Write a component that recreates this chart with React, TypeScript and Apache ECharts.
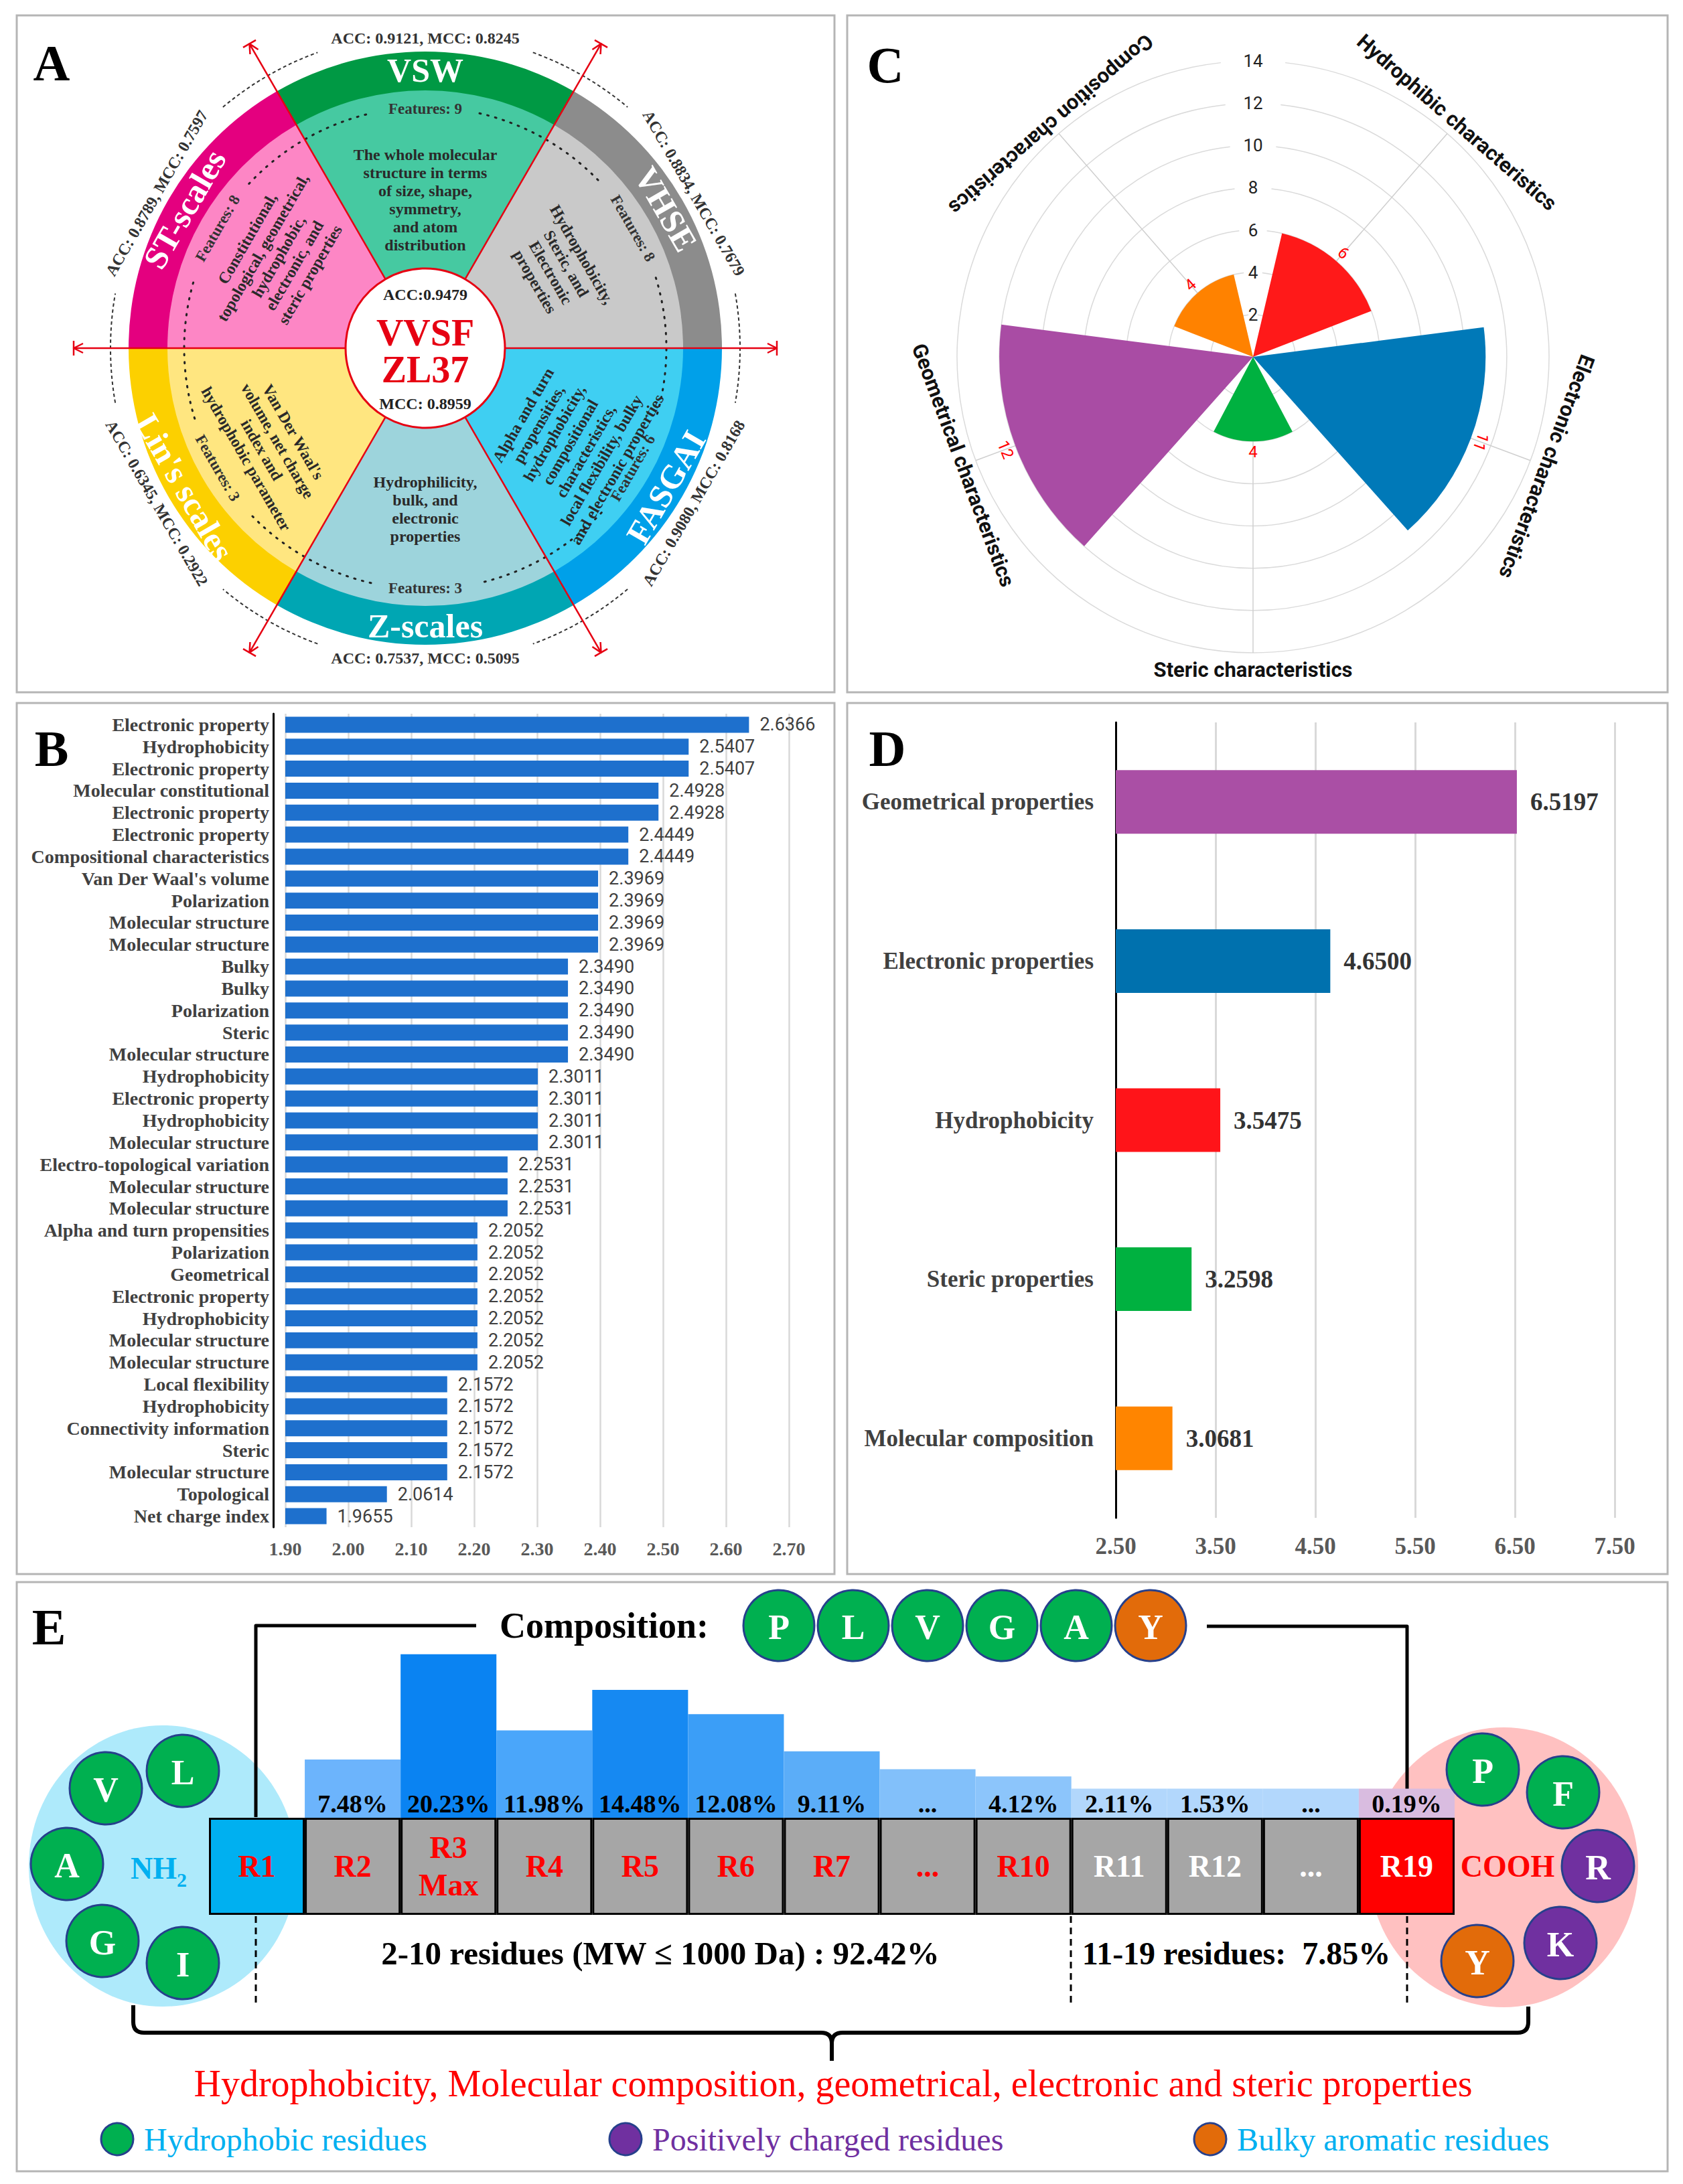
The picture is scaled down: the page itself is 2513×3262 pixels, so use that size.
import React, { useEffect, useRef } from "react";
import * as echarts from "echarts";

const SERIF = '"Liberation Serif", "Times New Roman", serif';
const SANS = 'Roboto, "Noto Sans", "DejaVu Sans", sans-serif';

// ---------- Panel A data ----------
const encodingNames = ["VSW", "VHSE", "FASGAI", "Z-scales", "Lin's scales", "ST-scales"];
const encodingAcc = ["0.9121", "0.8834", "0.9080", "0.7537", "0.6345", "0.8789"];
const encodingMcc = ["0.8245", "0.7679", "0.8168", "0.5095", "0.2922", "0.7597"];
const encodingFeatureCounts = [9, 8, 6, 3, 3, 8];
const encodingDescriptions = [
  "The whole molecular\nstructure in terms\nof size, shape,\nsymmetry,\nand atom\ndistribution",
  "Hydrophobicity,\nSteric, and\nElectronic\nproperties",
  "Alpha and turn\npropensities,\nhydrophobicity,\ncompositional\ncharacteristics,\nlocal flexibility, bulky\nand electronic properties",
  "Hydrophilicity,\nbulk, and\nelectronic\nproperties",
  "Van Der Waal's\nvolume, net charge\nindex and\nhydrophobic parameter",
  "Constitutional,\ntopological, geometrical,\nhydrophobic,\nelectronic, and\nsteric properties",
];
const fusedName = ["VVSF", "ZL37"];
const fusedAcc = "0.9479";
const fusedMcc = "0.8959";

// ---------- Panel B data ----------
const featureNames = [
  "Electronic property", "Hydrophobicity", "Electronic property", "Molecular constitutional",
  "Electronic property", "Electronic property", "Compositional characteristics", "Van Der Waal's volume",
  "Polarization", "Molecular structure", "Molecular structure", "Bulky", "Bulky", "Polarization",
  "Steric", "Molecular structure", "Hydrophobicity", "Electronic property", "Hydrophobicity",
  "Molecular structure", "Electro-topological variation", "Molecular structure", "Molecular structure",
  "Alpha and turn propensities", "Polarization", "Geometrical", "Electronic property", "Hydrophobicity",
  "Molecular structure", "Molecular structure", "Local flexibility", "Hydrophobicity",
  "Connectivity information", "Steric", "Molecular structure", "Topological", "Net charge index",
];
const featureScores = [
  2.6366, 2.5407, 2.5407, 2.4928, 2.4928, 2.4449, 2.4449, 2.3969, 2.3969, 2.3969, 2.3969,
  2.349, 2.349, 2.349, 2.349, 2.349, 2.3011, 2.3011, 2.3011, 2.3011, 2.2531, 2.2531, 2.2531,
  2.2052, 2.2052, 2.2052, 2.2052, 2.2052, 2.2052, 2.2052, 2.1572, 2.1572, 2.1572, 2.1572, 2.1572,
  2.0614, 1.9655,
];

// ---------- Panel C data ----------
const charCategories = [
  "Hydrophibic characteristics", "Electronic characteristics", "Steric characteristics",
  "Geometrical characteristics", "Composition characteristics",
];
const charCounts = [6, 11, 4, 12, 4];

// ---------- Panel D data ----------
const propNames = ["Geometrical properties", "Electronic properties", "Hydrophobicity", "Steric properties", "Molecular composition"];
const propScores = [6.5197, 4.65, 3.5475, 3.2598, 3.0681];

// ---------- Panel E data ----------
const residuePositions = ["R1", "R2", "R3\nMax", "R4", "R5", "R6", "R7", "...", "R10", "R11", "R12", "...", "R19"];
const residueShares = ["", "7.48%", "20.23%", "11.98%", "14.48%", "12.08%", "9.11%", "...", "4.12%", "2.11%", "1.53%", "...", "0.19%"];
const residueBarLevels = [0, 7.2, 20.2, 10.8, 15.8, 12.8, 8.2, 6.0, 5.1, 3.6, 3.6, 3.6, 3.6];
const compositionResidues = ["P", "L", "V", "G", "A", "Y"];
const nTermResidues = ["V", "L", "A", "G", "I"];
const cTermResidues = ["P", "F", "R", "K", "Y"];
const shortLenText = "2-10 residues (MW \u2264 1000 Da) : 92.42%";
const longLenText = "11-19 residues:  7.85%";
const summaryText = "Hydrophobicity, Molecular composition, geometrical, electronic and steric properties";
const legendLabels = ["Hydrophobic residues", "Positively charged residues", "Bulky aromatic residues"];

// ---------- styles ----------
const ringColors = ["#009944", "#8c8c8c", "#00a0e9", "#00a6b3", "#fcd000", "#e4007f"];
const innerColors = ["#46c9a1", "#c9c9c9", "#3fcff2", "#9dd4dc", "#ffe680", "#fd86c5"];
const charColors = ["#ff1919", "#0079b8", "#00b140", "#a94ca4", "#ff8200"];
// label overrides for the two bars whose automatic tangential label would be upside-down
// (10730.5 deg == -69.5 deg; it also lands near -69.5 deg if read as radians)
const charLabelOverride: (any | undefined)[] = [undefined, undefined, { rotate: 0, verticalAlign: "top" }, { rotate: 10730.5, verticalAlign: "top" }, undefined];
const propColors = ["#aa4fa5", "#0071ae", "#ff1419", "#00b140", "#ff8500"];
const histColors = ["#6cb4fc", "#6cb4fc", "#0a83f2", "#4aa6fa", "#1689f2", "#3b9ef7", "#5badf8", "#82c0fa", "#8cc5fb", "#b2d7fc", "#b2d7fc", "#b2d7fc", "#d9bce0"];
const boxFills = ["#00b0f0", "#a6a6a6", "#a6a6a6", "#a6a6a6", "#a6a6a6", "#a6a6a6", "#a6a6a6", "#a6a6a6", "#a6a6a6", "#a6a6a6", "#a6a6a6", "#a6a6a6", "#ff0000"];
const boxTextColors = ["#ff0000", "#ff0000", "#ff0000", "#ff0000", "#ff0000", "#ff0000", "#ff0000", "#ff0000", "#ff0000", "#ffffff", "#ffffff", "#ffffff", "#ffffff"];
const GREEN = "#00b050";
const PURPLE = "#7030a0";
const ORANGE = "#e26b0a";
const RING_BORDER = "#26408c";
const RED = "#e60012";

const rad = (d: number) => (d * Math.PI) / 180;
const polarPt = (cx: number, cy: number, r: number, deg: number) => [cx + r * Math.cos(rad(deg)), cy - r * Math.sin(rad(deg))];
const tangentRot = (deg: number) => {
  const n = ((deg % 360) + 360) % 360;
  return rad(n > 0 && n < 180 ? deg - 90 : deg + 90);
};

function txt(x: number, y: number, text: string, size: number, o: any = {}) {
  return {
    type: "text",
    x,
    y,
    rotation: o.rot || 0,
    z: o.z ?? 20,
    style: {
      text,
      fill: o.color || "#000",
      fontSize: size,
      fontFamily: o.family || SERIF,
      fontWeight: o.weight || "bold",
      align: o.align || "center",
      verticalAlign: "middle",
      lineHeight: o.lh,
      rich: o.rich,
    },
  };
}
function ln(x1: number, y1: number, x2: number, y2: number, color: string, w: number, z = 5, dash?: number[]) {
  return { type: "line", z, shape: { x1, y1, x2, y2 }, style: { stroke: color, lineWidth: w, lineDash: dash } };
}
function pl(points: number[][], color: string, w: number, z = 5) {
  return { type: "polyline", z, shape: { points }, style: { stroke: color, lineWidth: w, fill: null, lineJoin: "round" } };
}
function bez(x1: number, y1: number, cx: number, cy: number, x2: number, y2: number, color: string, w: number, z = 5) {
  return { type: "bezierCurve", z, shape: { x1, y1, x2, y2, cpx1: cx, cpy1: cy }, style: { stroke: color, lineWidth: w, fill: null } };
}
function ball(cx: number, cy: number, r: number, fill: string, letter: string, size: number, z = 12) {
  const els: any[] = [
    { type: "circle", z, shape: { cx, cy, r }, style: { fill, stroke: RING_BORDER, lineWidth: 3 } },
  ];
  if (letter) els.push(txt(cx, cy + 2, letter, size, { color: "#fff", z: z + 1 }));
  return els;
}

function buildGraphics() {
  const els: any[] = [];
  // panel borders
  const borders = [
    [25, 23, 1221, 1011],
    [1265, 23, 1225, 1011],
    [25, 1050, 1221, 1301],
    [1265, 1050, 1225, 1301],
    [25, 2363, 2465, 880],
  ];
  borders.forEach(([x, y, w, h]) =>
    els.push({ type: "rect", z: 0, shape: { x, y, width: w, height: h }, style: { fill: null, stroke: "#b5b5b5", lineWidth: 3 } })
  );
  // panel letters
  els.push(txt(77, 94, "A", 76));
  els.push(txt(1322, 97, "C", 76));
  els.push(txt(77, 1118, "B", 76));
  els.push(txt(1325, 1118, "D", 76));
  els.push(txt(73, 2430, "E", 76));

  // ---------------- Panel A ----------------
  const CX = 635, CY = 520;
  const ringAngles = [90, 30, -30, -90, 210, 150];
  const descPos = [[222, 90], [232, 31], [258, -33], [240, -90], [274, 212], [258, 148]];
  ringAngles.forEach((a, i) => {
    els.push({ type: "sector", z: 1, shape: { cx: CX, cy: CY, r0: 384, r: 443, startAngle: rad(-(a + 30)), endAngle: rad(-(a - 30)), clockwise: true }, style: { fill: ringColors[i] } });
    els.push({ type: "sector", z: 1, shape: { cx: CX, cy: CY, r0: 0, r: 385, startAngle: rad(-(a + 30)), endAngle: rad(-(a - 30)), clockwise: true }, style: { fill: innerColors[i] } });
  });
  // dotted features circle and dashed outer circle with gaps
  for (let k = 0; k < 6; k++) {
    const base = 30 + 60 * k;
    els.push({ type: "arc", z: 3, shape: { cx: CX, cy: CY, r: 360, startAngle: rad(-(base + 47)), endAngle: rad(-(base + 13)), clockwise: true }, style: { stroke: "#222", lineWidth: 3, lineDash: [2, 10], lineCap: "round", fill: null } });
    els.push({ type: "arc", z: 3, shape: { cx: CX, cy: CY, r: 470, startAngle: rad(-(base + 40)), endAngle: rad(-(base + 20)), clockwise: true }, style: { stroke: "#333", lineWidth: 2, lineDash: [5, 4], fill: null } });
  }
  // red axis lines with end caps
  [0, 60, 120].forEach((a) => {
    const [x1, y1] = polarPt(CX, CY, 525, a);
    const [x2, y2] = polarPt(CX, CY, 525, a + 180);
    els.push(ln(x1, y1, x2, y2, RED, 2.5, 4));
    [a, a + 180].forEach((b) => {
      const [ex, ey] = polarPt(CX, CY, 525, b);
      const ux = Math.cos(rad(b)), uy = -Math.sin(rad(b));
      const px = -uy, py = ux;
      els.push(ln(ex - 11 * px, ey - 11 * py, ex + 11 * px, ey + 11 * py, RED, 2.5, 4));
      els.push(pl([[ex - 14 * ux + 7 * px, ey - 14 * uy + 7 * py], [ex, ey], [ex - 14 * ux - 7 * px, ey - 14 * uy - 7 * py]], RED, 2.5, 4));
    });
  });
  // center circle
  els.push({ type: "circle", z: 6, shape: { cx: CX, cy: CY, r: 119 }, style: { fill: "#fff", stroke: RED, lineWidth: 3 } });
  els.push(txt(CX, 440, `ACC:${fusedAcc}`, 24, { color: "#222" }));
  els.push(txt(CX, 497, fusedName[0], 56, { color: RED }));
  els.push(txt(CX, 552, fusedName[1], 56, { color: RED }));
  els.push(txt(CX, 603, `MCC: ${fusedMcc}`, 24, { color: "#222" }));
  // texts per encoding
  ringAngles.forEach((a, i) => {
    const rot = tangentRot(a);
    const [rx, ry] = polarPt(CX, CY, 415, a);
    els.push(txt(rx, ry, encodingNames[i], 50, { color: "#fff", rot }));
    const [fx, fy] = polarPt(CX, CY, 358, a);
    els.push(txt(fx, fy, `Features: ${encodingFeatureCounts[i]}`, 23, { color: "#333", rot }));
    const [ax, ay] = polarPt(CX, CY, 463, a);
    els.push(txt(ax, ay, `ACC: ${encodingAcc[i]}, MCC: ${encodingMcc[i]}`, 24, { color: "#333", rot }));
    const [dx, dy] = polarPt(CX, CY, descPos[i][0], descPos[i][1]);
    els.push(txt(dx, dy, encodingDescriptions[i], 24, { color: "#2a2a2a", rot, lh: 27 }));
  });

  // ---------------- Panel C labels ----------------
  const CCX = 1871, CCY = 533;
  const charLabelAngles = [49, -20.5, -90, 200.5, 131];
  const charLabelRot = [-41, -110.5, 0, -69.5, 221];
  const charLabelR = [464, 468, 467, 462, 460];
  charCategories.forEach((c, i) => {
    const [x, y] = polarPt(CCX, CCY, charLabelR[i], charLabelAngles[i]);
    els.push(txt(x, y, c, 31, { family: SANS, color: "#111", rot: rad(charLabelRot[i]) }));
  });

  // ---------------- Panel E ----------------
  els.push({ type: "ellipse", z: 0, shape: { cx: 243, cy: 2787, rx: 200, ry: 210 }, style: { fill: "#aeeafb" } });
  els.push({ type: "ellipse", z: 0, shape: { cx: 2245, cy: 2789, rx: 201, ry: 209 }, style: { fill: "#ffc1c1" } });
  // composition bracket lines
  els.push(pl([[382, 2714], [382, 2428], [711, 2428]], "#000", 5, 1));
  els.push(pl([[1802, 2429], [2101, 2429], [2101, 2714]], "#000", 5, 1));
  els.push(txt(902, 2428, "Composition:", 54));
  const compX = [1163, 1274, 1385, 1496, 1607, 1718];
  compositionResidues.forEach((r, i) => els.push(...ball(compX[i], 2428, 53, r === "Y" ? ORANGE : GREEN, r, 52)));
  // N-terminal
  const nPos = [[158, 2671], [273, 2645], [100, 2784], [153, 2899], [273, 2932]];
  nTermResidues.forEach((r, i) => els.push(...ball(nPos[i][0], nPos[i][1], 54, GREEN, r, 52)));
  els.push(txt(237, 2790, "{a|NH}{b|2}", 46, {
    color: "#00b0f0",
    rich: {
      a: { fontSize: 46, fontFamily: SERIF, fontWeight: "bold", fill: "#00b0f0", color: "#00b0f0", lineHeight: 46 },
      b: { fontSize: 30, fontFamily: SERIF, fontWeight: "bold", fill: "#00b0f0", color: "#00b0f0", lineHeight: 64, verticalAlign: "bottom" },
    },
  }));
  // C-terminal
  const cPos = [[2214, 2643], [2334, 2677], [2386, 2787], [2330, 2902], [2206, 2929]];
  const cFill = [GREEN, GREEN, PURPLE, PURPLE, ORANGE];
  cTermResidues.forEach((r, i) => els.push(...ball(cPos[i][0], cPos[i][1], 54, cFill[i], r, 52)));
  els.push(txt(2251, 2787, "COOH", 46, { color: "#ff0000", z: 14 }));
  // dashed separators
  els.push(ln(382, 2862, 382, 2997, "#000", 3, 5, [10, 7]));
  els.push(ln(1599, 2862, 1599, 2997, "#000", 3, 5, [10, 7]));
  els.push(ln(2101, 2862, 2101, 2997, "#000", 3, 5, [10, 7]));
  els.push(txt(986, 2917, shortLenText, 49));
  els.push(txt(1846, 2917, longLenText, 48));
  // big brace
  const BY = 3036, BC = 1242;
  els.push(ln(199, 2995, 199, BY - 16, "#000", 6));
  els.push(bez(199, BY - 16, 199, BY, 215, BY, "#000", 6));
  els.push(ln(215, BY, BC - 16, BY, "#000", 6));
  els.push(bez(BC - 16, BY, BC, BY, BC, BY + 16, "#000", 6));
  els.push(bez(BC + 16, BY, BC, BY, BC, BY + 16, "#000", 6));
  els.push(ln(BC, BY + 14, BC, 3078, "#000", 6));
  els.push(ln(BC + 16, BY, 2266, BY, "#000", 6));
  els.push(bez(2266, BY, 2282, BY, 2282, BY - 16, "#000", 6));
  els.push(ln(2282, BY - 16, 2282, 2997, "#000", 6));
  els.push(txt(1244, 3112, summaryText, 56, { color: "#ff0000", weight: "normal" }));
  // legend
  const legFill = [GREEN, PURPLE, ORANGE];
  const legCx = [175, 934, 1807];
  const legColors = ["#00b0f0", PURPLE, "#00b0f0"];
  legendLabels.forEach((l, i) => {
    els.push(...ball(legCx[i], 3195, 24, legFill[i], "", 10));
    els.push(txt(legCx[i] + 40, 3195, l, 48, { color: legColors[i], weight: "normal", align: "left" }));
  });
  return els;
}

function buildOption() {
  const axisFontB = { fontFamily: SERIF, fontWeight: "bold", fontSize: 28, color: "#595959" };
  return {
    animation: false,
    backgroundColor: "#ffffff",
    textStyle: { fontFamily: SERIF },
    grid: [
      { left: 426, top: 1066, width: 752, height: 1215, outerBoundsMode: "none" },
      { left: 1666, top: 1079, width: 745, height: 1188, outerBoundsMode: "none" },
      { left: 312, top: 2449, width: 1860, height: 411, outerBoundsMode: "none" },
    ],
    xAxis: [
      {
        gridIndex: 0, type: "value", min: 1.9, max: 2.7, interval: 0.1,
        axisLine: { show: false }, axisTick: { show: false },
        axisLabel: { ...axisFontB, margin: 18, formatter: (v: number) => v.toFixed(2) },
        splitLine: { show: true, lineStyle: { color: "#d9d9d9", width: 2.5 } },
      },
      {
        gridIndex: 1, type: "value", min: 2.5, max: 7.5, interval: 1,
        axisLine: { show: false }, axisTick: { show: false },
        axisLabel: { fontFamily: SERIF, fontWeight: "bold", fontSize: 35, color: "#595959", margin: 25, formatter: (v: number) => v.toFixed(2) },
        splitLine: { show: true, lineStyle: { color: "#d9d9d9", width: 3 } },
      },
      { gridIndex: 2, type: "category", data: residuePositions, show: false },
    ],
    yAxis: [
      {
        gridIndex: 0, type: "category", inverse: true, data: featureNames, offset: 18,
        axisLine: { show: true, lineStyle: { color: "#000", width: 3 } }, axisTick: { show: false },
        axisLabel: { interval: 0, fontFamily: SERIF, fontWeight: "bold", fontSize: 28, color: "#404040", margin: 6 },
      },
      {
        gridIndex: 1, type: "category", inverse: true, data: propNames,
        axisLine: { show: true, lineStyle: { color: "#000", width: 3 } }, axisTick: { show: false },
        axisLabel: { interval: 0, fontFamily: SERIF, fontWeight: "bold", fontSize: 35, color: "#404040", margin: 33 },
      },
      { gridIndex: 2, type: "value", min: -12, max: 22, show: false },
    ],
    polar: [
      { center: [1871, 533], radius: 442 },
      { center: [1871, 533], radius: 442 },
    ],
    angleAxis: [
      {
        polarIndex: 0, type: "category", data: charCategories, startAngle: 83.75, endAngle: -263.75, boundaryGap: true,
        axisLine: { show: false }, axisTick: { show: false, alignWithLabel: true }, axisLabel: { show: false },
        splitLine: { show: true, lineStyle: { color: "#cfcfcf", width: 1.5 } },
      },
      { polarIndex: 1, type: "value", startAngle: 90, show: false },
    ],
    radiusAxis: [
      {
        polarIndex: 0, type: "value", min: 0, max: 14, interval: 2,
        axisLine: { show: false }, axisTick: { show: false }, axisLabel: { show: false },
        splitLine: { show: true, lineStyle: { color: "#dadada", width: 1.5 } },
      },
      {
        polarIndex: 1, type: "value", min: 0, max: 14, interval: 2,
        axisLine: { show: false }, axisTick: { show: false }, splitLine: { show: false },
        axisLabel: { show: true, margin: 0, align: "center", verticalAlign: "middle", showMinLabel: false, fontFamily: SANS, fontSize: 26, color: "#222" },
      },
    ],
    series: [
      {
        type: "bar", xAxisIndex: 0, yAxisIndex: 0, data: featureScores, barCategoryGap: "27%",
        itemStyle: { color: "#1e70cd" },
        label: { show: true, position: "right", distance: 16, fontFamily: SANS, fontSize: 27, color: "#404040", formatter: (p: any) => p.value.toFixed(4) },
      },
      {
        type: "bar", xAxisIndex: 1, yAxisIndex: 1, barCategoryGap: "60%",
        data: propScores.map((v, i) => ({ value: v, itemStyle: { color: propColors[i] } })),
        label: { show: true, position: "right", distance: 20, fontFamily: SERIF, fontWeight: "bold", fontSize: 37, color: "#333", formatter: (p: any) => p.value.toFixed(4) },
      },
      {
        type: "bar", coordinateSystem: "polar", polarIndex: 0, barCategoryGap: "20%",
        data: charCounts.map((v, i) => {
          const item: any = { value: v, itemStyle: { color: charColors[i] } };
          if (charLabelOverride[i]) item.label = charLabelOverride[i];
          return item;
        }),
        label: { show: true, position: "end", distance: 4, fontFamily: SANS, fontSize: 24, color: "#ff0000" },
      },
      {
        type: "bar", xAxisIndex: 2, yAxisIndex: 2, barGap: "-100%", barCategoryGap: 0,
        data: residuePositions.map((_, i) => ({ value: -12, itemStyle: { color: boxFills[i] }, label: { color: boxTextColors[i] } })),
        itemStyle: { borderColor: "#000", borderWidth: 3 },
        label: { show: true, position: "inside", fontFamily: SERIF, fontWeight: "bold", fontSize: 46, lineHeight: 56, formatter: (p: any) => residuePositions[p.dataIndex] },
      },
      {
        type: "bar", xAxisIndex: 2, yAxisIndex: 2, barGap: "-100%", barCategoryGap: 0,
        data: residueBarLevels.map((v, i) => ({ value: v, itemStyle: { color: histColors[i] } })),
        label: { show: true, position: "insideBottom", distance: 2, fontFamily: SERIF, fontWeight: "bold", fontSize: 38, color: "#000", formatter: (p: any) => residueShares[p.dataIndex] },
      },
    ],
    graphic: { elements: buildGraphics() },
  };
}

export default function App() {
  const ref = useRef<HTMLDivElement>(null);
  useEffect(() => {
    const chart = echarts.init(ref.current as HTMLDivElement, null, { renderer: "svg" });
    chart.setOption(buildOption() as any);
    return () => chart.dispose();
  }, []);
  return <div ref={ref} style={{ position: "absolute", left: 0, top: 0, width: 2513, height: 3262, background: "#fff" }} />;
}
